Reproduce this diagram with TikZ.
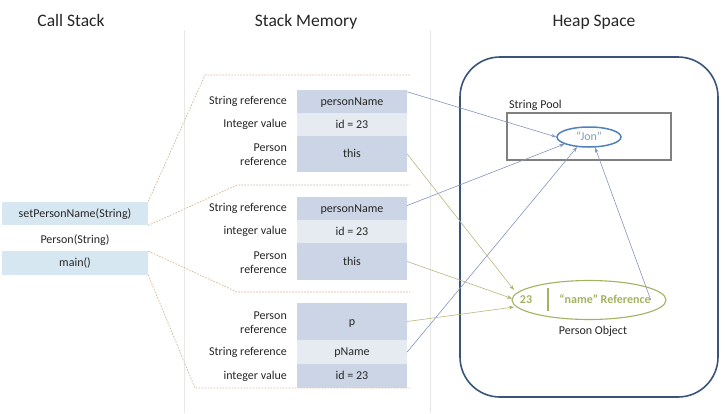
\documentclass[tikz,border=0pt]{standalone}
\usepackage{fontspec}
\setmainfont{Carlito}
\usetikzlibrary{arrows.meta,shapes.geometric}
\definecolor{csfill}{HTML}{D7E7F1}
\definecolor{celldark}{HTML}{CCD5E5}
\definecolor{celllight}{HTML}{E6EBF2}
\definecolor{framecol}{HTML}{D6B894}
\definecolor{sepcol}{HTML}{E8E8E8}
\definecolor{heapcol}{HTML}{3A5479}
\definecolor{poolcol}{HTML}{808080}
\definecolor{joncol}{HTML}{4F81BD}
\definecolor{jontext}{HTML}{7F9CC4}
\definecolor{objcol}{HTML}{A4B262}
\definecolor{bluearr}{HTML}{8496BC}
\definecolor{olivearr}{HTML}{BDB880}
\definecolor{txtcol}{HTML}{262626}
\begin{document}
\begin{tikzpicture}[x=1pt,y=-1pt,
  title/.style={font=\fontsize{17.5}{20}\selectfont, text=txtcol, anchor=base, inner sep=0pt},
  txt/.style={font=\fontsize{12}{14}\selectfont, text=txtcol, inner sep=0pt},
  csbox/.style={txt, minimum width=146pt, minimum height=23.5pt, text height=7.7pt, text depth=0pt},
  cell/.style={txt, minimum width=110pt, text height=7.7pt, text depth=0pt},
  dark/.style={cell, fill=celldark},
  light/.style={cell, fill=celllight},
  lbl/.style={txt, anchor=east, align=right},
  frame/.style={draw=framecol, line width=0.7pt, dash pattern=on 1.6pt off 1.4pt},
  barrow/.style={draw=bluearr, line width=0.6pt, -{Stealth[length=5pt,width=3.5pt]}},
  oarrow/.style={draw=olivearr, line width=0.6pt, -{Stealth[length=5pt,width=3.5pt,color=objcol]}},
  objtxt/.style={font=\fontsize{12}{14}\selectfont\bfseries, text=objcol, inner sep=0pt, text height=7.7pt, text depth=0pt}
]
\fill[white] (0,0) rectangle (725,413);
\useasboundingbox (0,0) rectangle (725,413);

% separators
\draw[sepcol, line width=0.8pt] (184,30) -- (184,413);
\draw[sepcol, line width=0.8pt] (430,30) -- (430,413);

% titles
\node[title] (t1) at (71,26) {Call Stack};
\node[title] (t2) at (306,26) {Stack Memory};
\node[title] (t3) at (594,26) {Heap Space};

% call stack
\node[csbox, fill=csfill] (spn) at (75,213.5) {setPersonName(String)};
\node[csbox] (pstr) at (75,240) {Person(String)};
\node[csbox, fill=csfill] (mainbox) at (75,263) {main()};

% frame outlines
\coordinate (f1a) at (205,75);
\coordinate (f1b) at (410,75);
\coordinate (f2a) at (237,185);
\coordinate (f2b) at (410,185);
\coordinate (f3a) at (237,292);
\coordinate (f3b) at (410,292);
\coordinate (f4a) at (195,388);
\coordinate (f4b) at (410,388);
\draw[frame] (spn.north east) -- (f1a) -- (f1b);
\draw[frame] (spn.south east) -- (f2a) -- (f2b);
\draw[frame] (mainbox.north east) -- (f3a) -- (f3b);
\draw[frame] (mainbox.south east) -- (f4a) -- (f4b);

% frame 1
\node[dark, minimum height=23pt] (pn1) at (352,101.5) {personName};
\node[light, minimum height=23pt] (id1) at (352,124.5) {id = 23};
\node[dark, minimum height=36pt] (this1) at (352,154) {this};
\node[lbl] (l11) at (287,101.5) {String reference};
\node[lbl] (l12) at (287,124.5) {Integer value};
\node[lbl] (l13) at (287,155) {Person\\reference};

% frame 2
\node[dark, minimum height=23pt] (pn2) at (352,208.5) {personName};
\node[light, minimum height=23pt] (id2) at (352,231.5) {id = 23};
\node[dark, minimum height=37pt] (this2) at (352,261.5) {this};
\node[lbl] (l21) at (287,208.5) {String reference};
\node[lbl] (l22) at (287,231.5) {integer value};
\node[lbl] (l23) at (287,262.5) {Person\\reference};

% frame 3
\node[dark, minimum height=37pt] (pcell) at (352,321.5) {p};
\node[light, minimum height=24pt] (pname) at (352,352) {pName};
\node[dark, minimum height=24pt] (id3) at (352,376) {id = 23};
\node[lbl] (l31) at (287,322.5) {Person\\reference};
\node[lbl] (l32) at (287,352) {String reference};
\node[lbl] (l33) at (287,376) {integer value};

% heap
\node[draw=heapcol, line width=1.6pt, rounded corners=40pt, minimum width=258pt, minimum height=340pt, inner sep=0pt] (heap) at (589,227) {};
\node[draw=poolcol, line width=1.2pt, minimum width=164pt, minimum height=47pt, inner sep=0pt] (pool) at (589,136.5) {};
\node[txt, anchor=base west] (poollbl) at (509,108) {String Pool};
\node[ellipse, draw=joncol, line width=1.5pt, minimum width=64pt, minimum height=20pt, inner sep=0pt,
      font=\fontsize{12}{14}\selectfont, text=jontext, text height=7.7pt, text depth=0pt] (jon) at (589,137) {“Jon”};

\node[ellipse, draw=objcol, line width=1.1pt, minimum width=154pt, minimum height=39pt, inner sep=0pt] (person) at (589,300) {};
\node[objtxt] (num) at (526,300) {23};
\coordinate (bar1) at (548,288);
\coordinate (bar2) at (548,311);
\draw[objcol, line width=1.2pt] (bar1) -- (bar2);
\node[objtxt] (nameref) at (605,300) {“name” Reference};
\node[txt] (pobj) at (593,331) {Person Object};

% connectors
\coordinate (pin1) at (514,290);
\coordinate (pin2) at (512,298.5);
\coordinate (pin3) at (514,307);
\draw[barrow] ([yshift=-2pt]pn1.north east) -- (jon.west);
\draw[barrow] ([yshift=3pt]pn2.east) -- (jon.196);
\draw[barrow] (pname.east) -- (jon.220);
\draw[barrow] (nameref.east) -- (jon.300);
\draw[oarrow] (this1.east) -- (pin1);
\draw[oarrow] (this2.east) -- (pin2);
\draw[oarrow] (pcell.east) -- (pin3);
\end{tikzpicture}
\end{document}
